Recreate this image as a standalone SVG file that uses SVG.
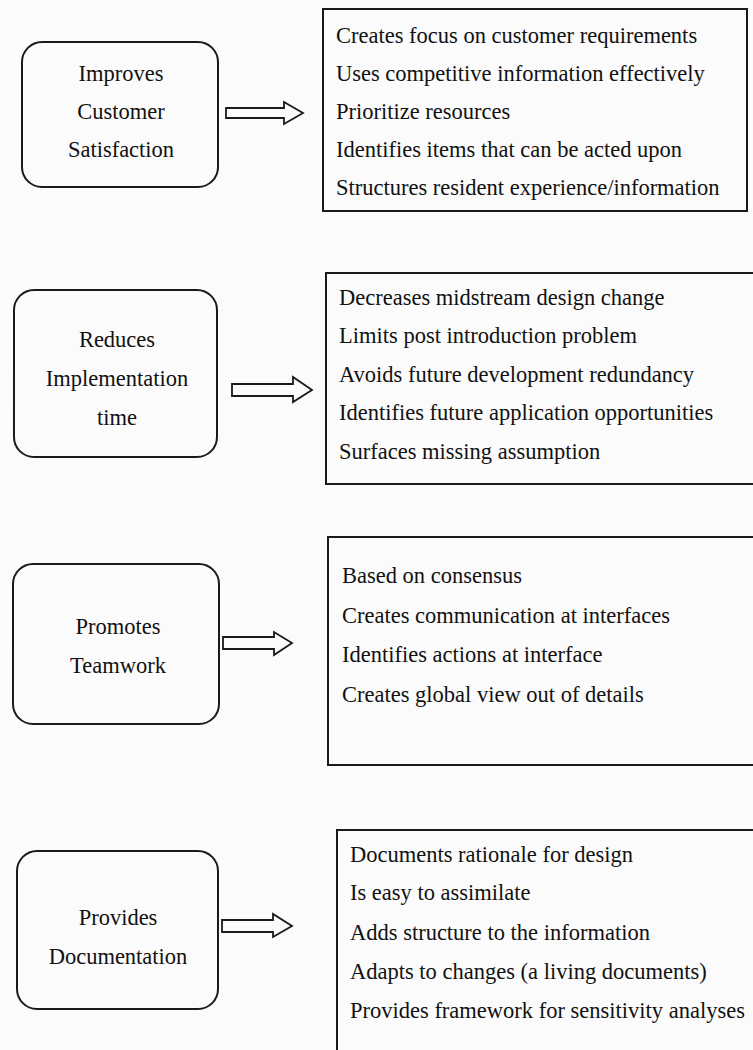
<svg xmlns="http://www.w3.org/2000/svg" width="753" height="1050" viewBox="0 0 753 1050">
<style>
.bg{fill:#fbfbfb}
.node{fill:none;stroke:#1a1a1a;stroke-width:2}
.list{fill:none;stroke:#1a1a1a;stroke-width:2}
.arrow{fill:#fbfbfb;stroke:#1a1a1a;stroke-width:1.8;stroke-linejoin:miter}
text{font-family:"Liberation Serif","Times New Roman",serif;font-size:22.5px;fill:#111}
.c{text-anchor:middle}
</style>
<rect class="bg" x="0" y="0" width="753" height="1050"/>

<g id="node-customer">
<rect class="node" x="22" y="42" width="196" height="145" rx="20"/>
<text class="c" x="121" y="81">Improves</text>
<text class="c" x="121" y="119">Customer</text>
<text class="c" x="121" y="157">Satisfaction</text>
</g>
<g id="list-customer">
<rect class="list" x="323" y="9" width="424" height="202"/>
<text x="336" y="43">Creates focus on customer requirements</text>
<text x="336" y="81">Uses competitive information effectively</text>
<text x="336" y="119">Prioritize resources</text>
<text x="336" y="157">Identifies items that can be acted upon</text>
<text x="336" y="195">Structures resident experience/information</text>
</g>

<g id="node-implementation">
<rect class="node" x="14" y="290" width="203" height="167" rx="20"/>
<text class="c" x="117" y="347">Reduces</text>
<text class="c" x="117" y="386">Implementation</text>
<text class="c" x="117" y="425">time</text>
</g>
<g id="list-implementation">
<rect class="list" x="326" y="273" width="440" height="211"/>
<text x="339" y="305">Decreases midstream design change</text>
<text x="339" y="343">Limits post introduction problem</text>
<text x="339" y="382">Avoids future development redundancy</text>
<text x="339" y="420">Identifies future application opportunities</text>
<text x="339" y="459">Surfaces missing assumption</text>
</g>

<g id="node-teamwork">
<rect class="node" x="13" y="564" width="206" height="160" rx="20"/>
<text class="c" x="118" y="634">Promotes</text>
<text class="c" x="118" y="673">Teamwork</text>
</g>
<g id="list-teamwork">
<rect class="list" x="328" y="537" width="440" height="228"/>
<text x="342" y="583">Based on consensus</text>
<text x="342" y="623">Creates communication at interfaces</text>
<text x="342" y="662">Identifies actions at interface</text>
<text x="342" y="702">Creates global view out of details</text>
</g>

<g id="node-documentation">
<rect class="node" x="17" y="851" width="201" height="158" rx="20"/>
<text class="c" x="118" y="925">Provides</text>
<text class="c" x="118" y="964">Documentation</text>
</g>
<g id="list-documentation">
<rect class="list" x="337" y="830" width="440" height="240"/>
<text x="350" y="862">Documents rationale for design</text>
<text x="350" y="900">Is easy to assimilate</text>
<text x="350" y="940">Adds structure to the information</text>
<text x="350" y="979">Adapts to changes (a living documents)</text>
<text x="350" y="1018">Provides framework for sensitivity analyses</text>
</g>

<g id="connectors">
<path class="arrow" d="M226,108 H284 V102 L303,113 L284,124 V118 H226 Z"/>
<path class="arrow" d="M232,384 H293 V377 L312,390 L293,402 V396 H232 Z"/>
<path class="arrow" d="M223,637 H274 V632 L292,643 L274,655 V649 H223 Z"/>
<path class="arrow" d="M222,920 H273 V914 L292,926 L273,937 V932 H222 Z"/>
</g>
</svg>
